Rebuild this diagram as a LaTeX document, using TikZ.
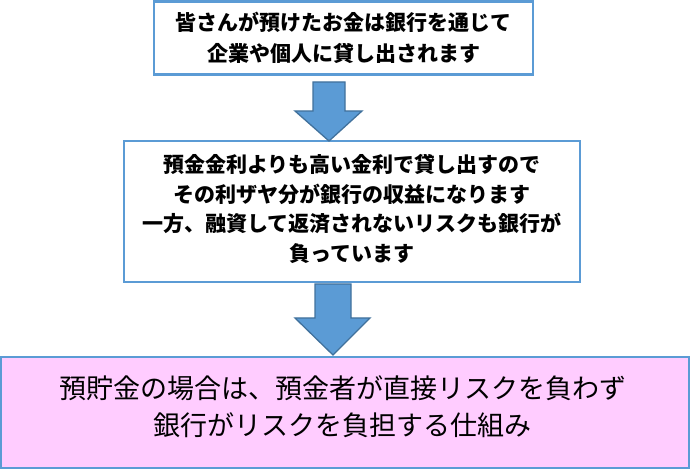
\documentclass[tikz,border=0pt]{standalone}
\usepackage{fontspec}
\newfontfamily\jp{Noto Sans CJK JP}
\definecolor{boxblue}{RGB}{91,155,213}
\definecolor{arrowedge}{RGB}{65,113,156}
\definecolor{pinkfill}{RGB}{255,204,255}
\tikzset{
  boxshape/.style={draw=boxblue, line width=2.5pt, fill=white, inner sep=0pt},
  blockarrow/.style={fill=boxblue, draw=arrowedge, line width=1.3pt, line join=miter},
  boxtext/.style={align=center, inner sep=0pt, text=black}
}
\begin{document}
\begin{tikzpicture}[x=1pt,y=-1pt]
\useasboundingbox (0,0) rectangle (691,470);
% boxes
\node[boxshape, minimum width=379pt, minimum height=73pt] (b1) at (343.5,38) {};
\node[boxshape, minimum width=456pt, minimum height=141pt] (b2) at (352,211.5) {};
\node[boxshape, fill=pinkfill, minimum width=688pt, minimum height=111pt] (b3) at (345,412.5) {};
% texts
\node[boxtext, font={\jp\bfseries\fontsize{21}{31}\selectfont}] (t1) at (343.5,38)
  {皆さんが預けたお金は銀行を通じて\\企業や個人に貸し出されます};
\node[boxtext, font={\jp\bfseries\fontsize{21}{29.5}\selectfont}] (t2) at (352,209)
  {預金金利よりも高い金利で貸し出すので\\その利ザヤ分が銀行の収益になります\\一方、融資して返済されないリスクも銀行が\\負っています};
\node[boxtext, font={\jp\fontsize{27}{37}\selectfont}] (t3) at (343,406.5)
  {預貯金の場合は、預金者が直接リスクを負わず\\銀行がリスクを負担する仕組み};
% block arrows
\draw[blockarrow] (313,82) -- (345,82) -- (345,111) -- (362,111) -- (329,141) -- (295,111) -- (313,111) -- cycle;
\draw[blockarrow] (315,284) -- (351,284) -- (351,318) -- (370,318) -- (333,355) -- (295,318) -- (315,318) -- cycle;
\end{tikzpicture}
\end{document}
